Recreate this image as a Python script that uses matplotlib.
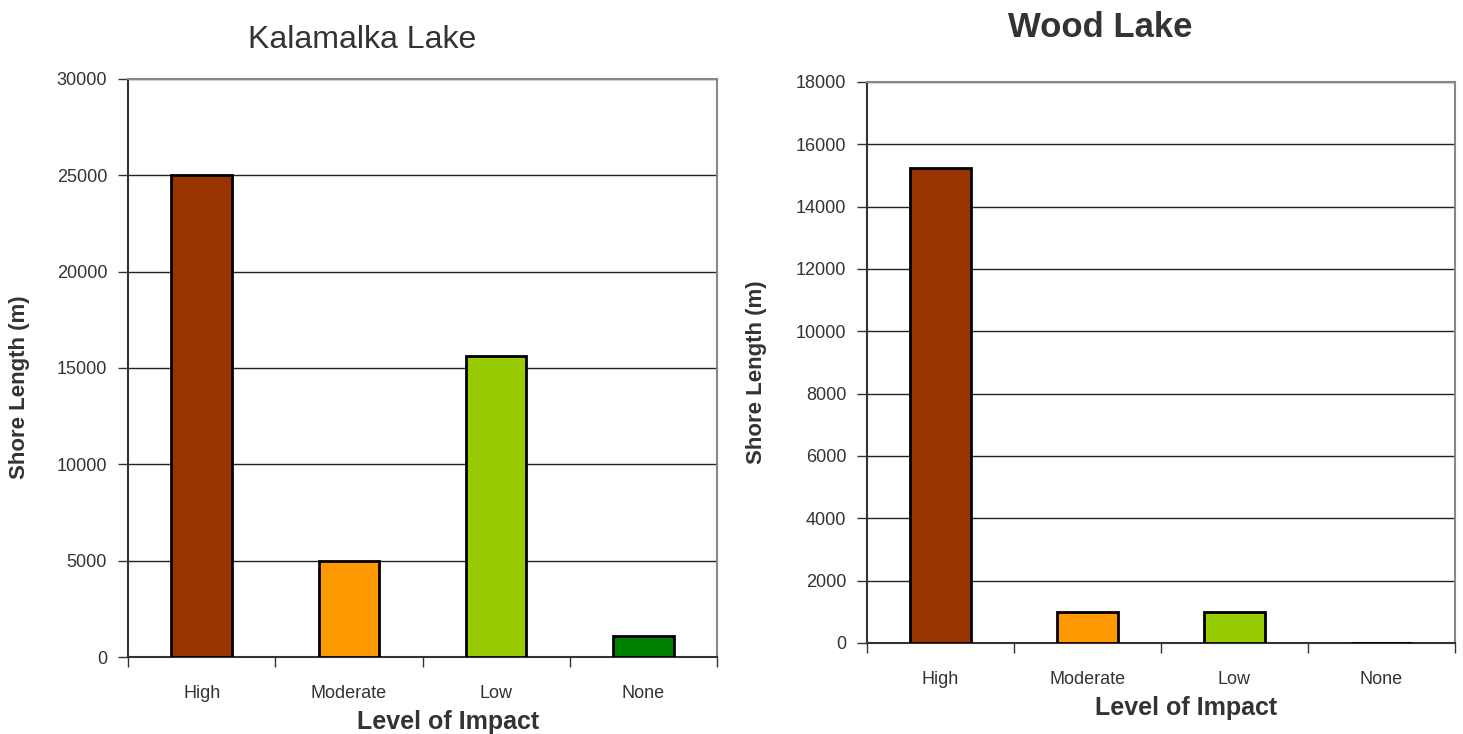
import matplotlib
matplotlib.use("Agg")
from matplotlib import pyplot as plt

# Chart data
CATEGORIES = ["High", "Moderate", "Low", "None"]
KALAMALKA = [25000, 5000, 15600, 1100]
WOOD = [15250, 1000, 1000, 0]
BAR_COLORS = ["#993300", "#FF9900", "#99CC00", "#008000"]

SANS = ["Liberation Sans Narrow", "Liberation Sans", "DejaVu Sans"]
TEXT_GRAY = "#333333"

fig = plt.figure(figsize=(14.63, 7.34), dpi=100)


def draw_panel(rect, values, ymax, ystep, xlabel_pos, ylabel_pos):
    ax = fig.add_axes(rect)
    x = range(len(CATEGORIES))
    ax.bar(x, values, width=0.41, color=BAR_COLORS, edgecolor="black",
           linewidth=2, zorder=3)
    ax.set_xlim(-0.5, len(CATEGORIES) - 0.5)
    ax.set_ylim(0, ymax)
    ax.set_yticks(range(0, ymax + 1, ystep))
    ax.yaxis.grid(True, color="#222222", linewidth=1, zorder=0)
    # category boundaries carry the tick marks, labels sit in between
    ax.set_xticks([i - 0.5 for i in range(len(CATEGORIES) + 1)])
    ax.set_xticklabels([])
    ax.set_xticks(list(x), minor=True)
    ax.set_xticklabels(CATEGORIES, minor=True, family=SANS, fontsize=13,
                       color=TEXT_GRAY)
    ax.tick_params(axis="x", which="major", length=7, width=1, color="#333333")
    ax.tick_params(axis="x", which="minor", length=0, pad=20)
    ax.tick_params(axis="y", length=7, width=1, color="#333333", pad=8)
    for lbl in ax.get_yticklabels():
        lbl.set_family(SANS)
        lbl.set_fontsize(13)
        lbl.set_color(TEXT_GRAY)
    for side in ["top", "right"]:
        ax.spines[side].set_color("#888888")
        ax.spines[side].set_linewidth(1.5)
    for side in ["left", "bottom"]:
        ax.spines[side].set_color("#333333")
        ax.spines[side].set_linewidth(1.5)
    ax.set_xlabel("Level of Impact", family="Liberation Sans", fontsize=18,
                  fontweight="bold", color=TEXT_GRAY)
    ax.xaxis.set_label_coords(*xlabel_pos)
    ax.set_ylabel("Shore Length (m)", family="Liberation Sans", fontsize=16,
                  fontweight="bold", color=TEXT_GRAY)
    ax.yaxis.set_label_coords(*ylabel_pos)
    return ax


draw_panel([0.0875, 0.1049, 0.4026, 0.7875], KALAMALKA, 30000, 5000,
           (0.543, -0.092), (-0.166, 0.467))
draw_panel([0.5926, 0.124, 0.4019, 0.7643], WOOD, 18000, 2000,
           (0.543, -0.095), (-0.17, 0.483))

fig.text(0.2475, 0.946, "Kalamalka Lake", family=SANS, fontsize=23,
         color=TEXT_GRAY, ha="center", va="center")
fig.text(0.752, 0.962, "Wood Lake", family="Liberation Sans", fontsize=25,
         fontweight="bold", color=TEXT_GRAY, ha="center", va="center")

fig.savefig("out.png", dpi=100, facecolor="white")
